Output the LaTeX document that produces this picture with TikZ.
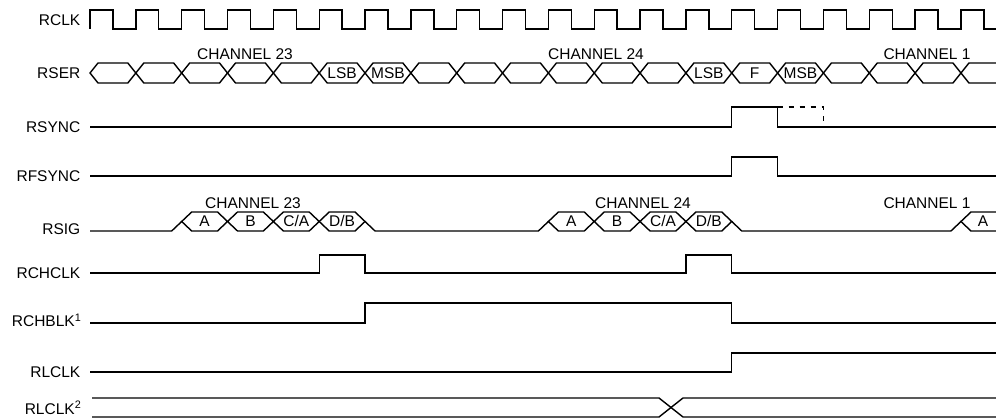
\documentclass[tikz,border=0pt]{standalone}
\usepackage{fontspec}
\setmainfont{Liberation Sans}
\def\kx#1{90+45.84*(#1)}
\begin{document}
\begin{tikzpicture}[x=1pt,y=-1pt,line width=1.4pt,line join=miter,
  lab/.style={font=\fontsize{15.5}{17}\selectfont,inner sep=0pt,anchor=base east},
  txt/.style={font=\fontsize{15.5}{17}\selectfont,inner sep=0pt,anchor=base},
  dashsig/.style={dash pattern=on 5pt off 6pt}]
\useasboundingbox (0,0) rectangle (996,419);
% labels
\node[lab] (lrclk) at (81,26) {RCLK};
\node[lab] (lrser) at (81,78.5) {RSER};
\node[lab] (lrsync) at (81,132.5) {RSYNC};
\node[lab] (lrfsync) at (81,181.5) {RFSYNC};
\node[lab] (lrsig) at (81,234.5) {RSIG};
\node[lab] (lrchclk) at (81,278.5) {RCHCLK};
\node[lab] (lrchblk) at (82,327) {RCHBLK\textsuperscript{1}};
\node[lab] (lrlclk) at (81,377.5) {RLCLK};
\node[lab] (lrlclkb) at (82,414) {RLCLK\textsuperscript{2}};
% RCLK
\draw (90,29) -- (90,10)
  \foreach \k in {0,...,18}{ -- ({\kx{\k+0.5}},10) -- ({\kx{\k+0.5}},29) -- ({\kx{\k+1}},29) -- ({\kx{\k+1}},10) }
  -- ({\kx{19.5}},10) -- ({\kx{19.5}},29) -- (996,29);
% RSER
\foreach \k in {0,...,18}{
  \draw ({\kx{\k}},73) -- ({\kx{\k}+8},63) -- ({\kx{\k+1}-8},63) -- ({\kx{\k+1}},73) -- ({\kx{\k+1}-8},83) -- ({\kx{\k}+8},83) -- cycle;
}
\draw (996,63) -- ({\kx{19}+8},63) -- ({\kx{19}},73) -- ({\kx{19}+8},83) -- (996,83);
\node[txt] (s1) at ({\kx{5.5}},78.5) {LSB};
\node[txt] (s2) at ({\kx{6.5}},78.5) {MSB};
\node[txt] (s3) at ({\kx{13.5}},78.5) {LSB};
\node[txt] (s4) at ({\kx{14.5}},78.5) {F};
\node[txt] (s5) at ({\kx{15.5}},78.5) {MSB};
\node[txt] (c23a) at (245,59.5) {CHANNEL 23};
\node[txt] (c24a) at (596,59.5) {CHANNEL 24};
\node[txt] (c1a) at (927,59.5) {CHANNEL 1};
% RSYNC
\draw (90,127) -- ({\kx{14}},127) -- ({\kx{14}},107) -- ({\kx{15}},107) -- ({\kx{15}},127) -- (996,127);
\draw[dashsig] ({\kx{15}},107) -- ({\kx{16}},107) -- ({\kx{16}},127);
% RFSYNC
\draw (90,176) -- ({\kx{14}},176) -- ({\kx{14}},157) -- ({\kx{15}},157) -- ({\kx{15}},176) -- (996,176);
% RSIG
\foreach \k in {2,...,5,10,11,12,13}{
  \draw ({\kx{\k}},221.5) -- ({\kx{\k}+10},212) -- ({\kx{\k+1}-10},212) -- ({\kx{\k+1}},221.5) -- ({\kx{\k+1}-10},231) -- ({\kx{\k}+10},231) -- cycle;
}
\draw (90,231) -- ({\kx{2}-10},231) -- ({\kx{2}},221.5);
\draw ({\kx{6}},221.5) -- ({\kx{6}+10},231) -- ({\kx{10}-10},231) -- ({\kx{10}},221.5);
\draw ({\kx{14}},221.5) -- ({\kx{14}+10},231) -- ({\kx{19}-10},231) -- ({\kx{19}},221.5) -- ({\kx{19}+10},231) -- (996,231);
\draw ({\kx{19}},221.5) -- ({\kx{19}+10},212) -- (996,212);
\node[txt] (g1) at ({\kx{2.5}},227) {A};
\node[txt] (g2) at ({\kx{3.5}},227) {B};
\node[txt] (g3) at ({\kx{4.5}},227) {C/A};
\node[txt] (g4) at ({\kx{5.5}},227) {D/B};
\node[txt] (g5) at ({\kx{10.5}},227) {A};
\node[txt] (g6) at ({\kx{11.5}},227) {B};
\node[txt] (g7) at ({\kx{12.5}},227) {C/A};
\node[txt] (g8) at ({\kx{13.5}},227) {D/B};
\node[txt] (g9) at (983,227) {A};
\node[txt] (c23b) at (253,208.5) {CHANNEL 23};
\node[txt] (c24b) at (643,208.5) {CHANNEL 24};
\node[txt] (c1b) at (927,208.5) {CHANNEL 1};
% RCHCLK
\draw (90,273) -- ({\kx{5}},273) -- ({\kx{5}},255) -- ({\kx{6}},255) -- ({\kx{6}},273) -- ({\kx{13}},273) -- ({\kx{13}},255) -- ({\kx{14}},255) -- ({\kx{14}},273) -- (996,273);
% RCHBLK
\draw (90,323) -- ({\kx{6}},323) -- ({\kx{6}},303) -- ({\kx{14}},303) -- ({\kx{14}},323) -- (996,323);
% RLCLK
\draw (90,372) -- ({\kx{14}},372) -- ({\kx{14}},353) -- (996,353);
% RLCLK2
\draw (92,398) -- (659,398) -- (683,417) -- (996,417);
\draw (92,417) -- (659,417) -- (683,398) -- (996,398);
\end{tikzpicture}
\end{document}
